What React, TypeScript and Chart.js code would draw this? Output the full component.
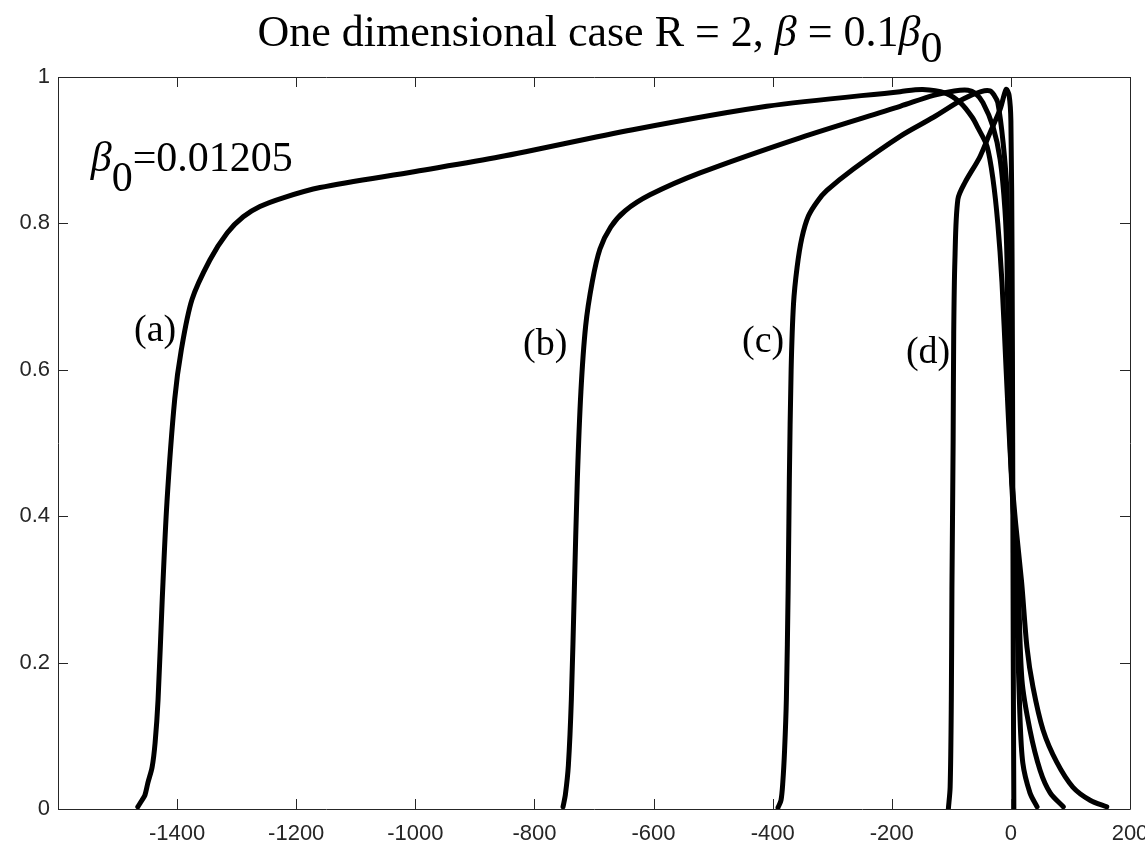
import React, { useEffect, useRef } from 'react';
import { Chart, registerables } from 'chart.js';
Chart.register(...registerables);

const xTickValues = [-1400, -1200, -1000, -800, -600, -400, -200, 0, 200];
const yTickValues = [0, 0.2, 0.4, 0.6, 0.8, 1];

const curveAX = [-1466, -1459, -1454, -1449, -1442, -1437, -1432, -1425, -1417, -1404, -1393, -1375, -1345, -1316, -1289, -1261, -1222, -1160, -1000, -858, -635, -410, -186, -148, -110, -85, -65, -55, -40, -30, -22, -15, -8, 0, 8, 18, 27, 37, 54, 77, 104, 133, 161];
const curveAY = [0.003, 0.012, 0.019, 0.036, 0.057, 0.09, 0.149, 0.286, 0.42, 0.56, 0.627, 0.696, 0.75, 0.787, 0.809, 0.823, 0.835, 0.849, 0.871, 0.891, 0.928, 0.96, 0.98, 0.983, 0.978, 0.965, 0.945, 0.93, 0.905, 0.86, 0.8, 0.72, 0.6, 0.47, 0.39, 0.31, 0.221, 0.167, 0.108, 0.064, 0.03, 0.012, 0.003];

const curveBX = [-752, -748, -743, -738, -733, -728, -722, -714, -703, -690, -672, -648, -606, -522, -354, -186, -130, -95, -72, -60, -47, -30, -18, -10, -6.5, -4, 0, 6, 12, 18.6, 32, 49, 66, 88];
const curveBY = [0.003, 0.02, 0.06, 0.15, 0.3, 0.45, 0.57, 0.66, 0.72, 0.765, 0.795, 0.817, 0.839, 0.869, 0.917, 0.96, 0.975, 0.981, 0.982, 0.978, 0.965, 0.932, 0.887, 0.819, 0.75, 0.6, 0.47, 0.38, 0.313, 0.176, 0.108, 0.053, 0.022, 0.003];

const curveCX = [-391, -386, -383, -380, -377, -374, -372, -369, -365, -359, -351, -340, -325, -309, -265, -186, -130, -80, -50, -35, -28, -22, -13, -6.5, -5, -2, 2, 8, 10, 15, 20, 32, 44];
const curveCY = [0.002, 0.012, 0.036, 0.08, 0.15, 0.3, 0.45, 0.6, 0.69, 0.74, 0.78, 0.81, 0.83, 0.845, 0.874, 0.919, 0.945, 0.97, 0.98, 0.981, 0.975, 0.965, 0.91, 0.842, 0.75, 0.6, 0.45, 0.33, 0.268, 0.131, 0.063, 0.022, 0.003];

const curveDX = [-105, -102, -100, -99, -97, -96, -94, -89, -77, -52, -35, -18, -8, -3, 0, 2, 3, 4, 5];
const curveDY = [0.0, 0.03, 0.15, 0.3, 0.5, 0.65, 0.75, 0.833, 0.856, 0.891, 0.924, 0.956, 0.983, 0.975, 0.94, 0.75, 0.5, 0.2, 0.0];

const curveLabels = ['(a)', '(b)', '(c)', '(d)'];
const curveLabelX = [-1437, -782, -416, -139];
const curveLabelY = [0.653, 0.634, 0.638, 0.623];

const betaLabelX = -1545;
const betaLabelY = 0.872;
const betaValueText = '=0.01205';

const SERIF = "'Liberation Serif', 'Times New Roman', serif";
const SANS = "'Liberation Sans', Arial, sans-serif";
const AXIS_COLOR = '#262626';

type Seg = { t: string; italic?: boolean; dy?: number };

function drawRich(ctx: CanvasRenderingContext2D, segs: Seg[], x: number, y: number, size: number, align: 'left' | 'center') {
  const widths = segs.map((s) => {
    ctx.font = `${s.italic ? 'italic ' : ''}${size}px ${SERIF}`;
    return ctx.measureText(s.t).width;
  });
  const total = widths.reduce((p, c) => p + c, 0);
  let cx = align === 'center' ? x - total / 2 : x;
  ctx.textAlign = 'left';
  ctx.textBaseline = 'alphabetic';
  segs.forEach((s, i) => {
    ctx.font = `${s.italic ? 'italic ' : ''}${size}px ${SERIF}`;
    ctx.fillText(s.t, cx, y + (s.dy || 0));
    cx += widths[i];
  });
}

const framePlugin = {
  id: 'matlabFrame',
  afterDraw(chart: any) {
    const { ctx, chartArea: a, scales } = chart;
    const xs = scales.x;
    const ys = scales.y;
    ctx.save();
    ctx.strokeStyle = AXIS_COLOR;
    ctx.lineWidth = 1;
    ctx.beginPath();
    ctx.rect(Math.round(a.left) + 0.5, Math.round(a.top) + 0.5, Math.round(a.right - a.left), Math.round(a.bottom - a.top));
    ctx.stroke();
    const tl = 10;
    ctx.beginPath();
    xTickValues.forEach((v) => {
      const px = Math.round(xs.getPixelForValue(v)) + 0.5;
      ctx.moveTo(px, a.bottom);
      ctx.lineTo(px, a.bottom - tl);
      ctx.moveTo(px, a.top);
      ctx.lineTo(px, a.top + tl);
    });
    yTickValues.forEach((v) => {
      const py = Math.round(ys.getPixelForValue(v)) + 0.5;
      ctx.moveTo(a.left, py);
      ctx.lineTo(a.left + tl, py);
      ctx.moveTo(a.right, py);
      ctx.lineTo(a.right - tl, py);
    });
    ctx.stroke();

    ctx.fillStyle = '#000';
    drawRich(
      ctx,
      [
        { t: 'One dimensional case R = 2, ' },
        { t: 'β', italic: true },
        { t: ' = 0.1' },
        { t: 'β', italic: true },
        { t: '0', dy: 16 },
      ],
      (a.left + a.right) / 2 + 6,
      46,
      44,
      'center'
    );
    drawRich(
      ctx,
      [{ t: 'β', italic: true }, { t: '0', dy: 20 }, { t: betaValueText }],
      xs.getPixelForValue(betaLabelX),
      ys.getPixelForValue(betaLabelY),
      42,
      'left'
    );
    ctx.font = `38px ${SERIF}`;
    ctx.textAlign = 'center';
    ctx.textBaseline = 'middle';
    curveLabels.forEach((l, i) => {
      ctx.fillText(l, xs.getPixelForValue(curveLabelX[i]), ys.getPixelForValue(curveLabelY[i]));
    });
    ctx.restore();
  },
};

function toPoints(xs: number[], ys: number[]) {
  return xs.map((x, i) => ({ x, y: ys[i] }));
}

export default function App() {
  const ref = useRef<HTMLCanvasElement>(null);
  useEffect(() => {
    if (!ref.current) return;
    const lineStyle = {
      showLine: true,
      borderColor: '#000',
      backgroundColor: '#000',
      borderWidth: 5,
      pointRadius: 0,
      tension: 0.3,
      borderJoinStyle: 'round' as const,
      borderCapStyle: 'round' as const,
      fill: false,
    };
    const chart = new Chart(ref.current, {
      type: 'scatter',
      data: {
        datasets: [
          { label: '(a)', data: toPoints(curveAX, curveAY), ...lineStyle },
          { label: '(b)', data: toPoints(curveBX, curveBY), ...lineStyle },
          { label: '(c)', data: toPoints(curveCX, curveCY), ...lineStyle },
          { label: '(d)', data: toPoints(curveDX, curveDY), ...lineStyle },
        ],
      },
      options: {
        responsive: false,
        animation: false,
        layout: { padding: { top: 77, right: 15, left: 0, bottom: 0 }, autoPadding: false },
        plugins: { legend: { display: false }, tooltip: { enabled: false }, title: { display: false } },
        scales: {
          x: {
            type: 'linear',
            min: -1600,
            max: 200,
            grid: { display: false, drawTicks: false },
            border: { display: false },
            afterFit: (s: any) => { s.height = 37; s.paddingLeft = 0; s.paddingRight = 0; },
            afterBuildTicks: (s: any) => { s.ticks = xTickValues.map((v) => ({ value: v })); },
            ticks: {
              color: AXIS_COLOR,
              font: { family: SANS, size: 22 },
              padding: 12,
              maxRotation: 0,
              autoSkip: false,
              callback: (v: any) => String(v),
            },
          },
          y: {
            type: 'linear',
            min: 0,
            max: 1,
            grid: { display: false, drawTicks: false },
            border: { display: false },
            afterFit: (s: any) => { s.width = 58; s.paddingTop = 0; s.paddingBottom = 0; },
            afterBuildTicks: (s: any) => { s.ticks = yTickValues.map((v) => ({ value: v })); },
            ticks: {
              color: AXIS_COLOR,
              font: { family: SANS, size: 22 },
              padding: 8,
              autoSkip: false,
              callback: (v: any) => String(Math.round(v * 10) / 10),
            },
          },
        },
      },
      plugins: [framePlugin],
    } as any);
    return () => chart.destroy();
  }, []);
  return (
    <div style={{ position: 'absolute', left: 0, top: 0, width: 1145, height: 846, background: '#fff' }}>
      <canvas ref={ref} width={1145} height={846} style={{ width: 1145, height: 846, display: 'block' }} />
    </div>
  );
}
